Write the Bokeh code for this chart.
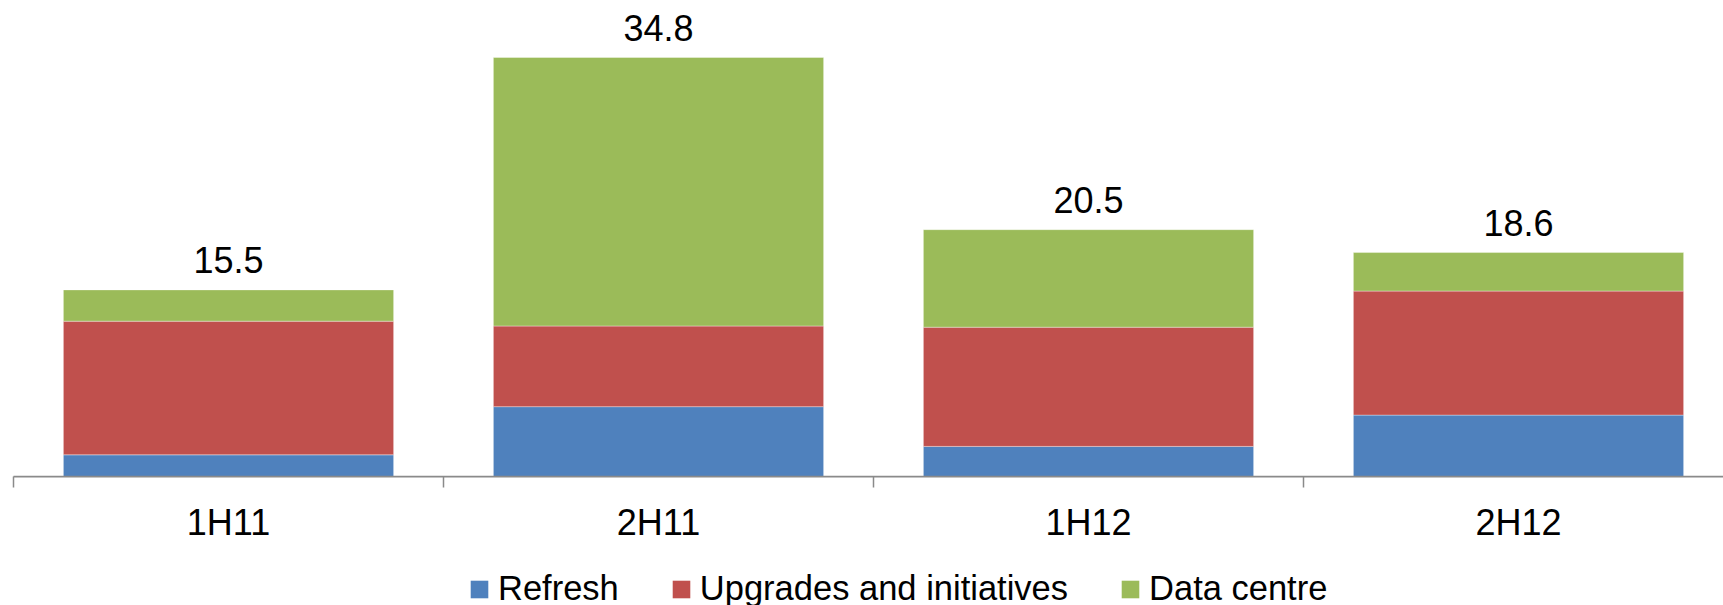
from bokeh.plotting import figure
from bokeh.layouts import column
from bokeh.models import (ColumnDataSource, Range1d, FixedTicker, Legend, LegendItem)
from bokeh.core.properties import value
from bokeh.embed import file_html
from bokeh.resources import INLINE

# ---- data ----
periods = ["1H11", "2H11", "1H12", "2H12"]
refresh = [1.8, 5.8, 2.5, 5.1]
upgrades = [11.1, 6.7, 9.9, 10.3]
data_centre = [2.6, 22.3, 8.1, 3.2]
series_names = ["Refresh", "Upgrades and initiatives", "Data centre"]
colors = ["#4F81BD", "#C0504D", "#9BBB59"]

FONT = "Liberation Sans"
FS = "36px"
FS_LEG = "34.5px"

x = [i + 0.5 for i in range(len(periods))]
totals = [round(a + b + c, 1) for a, b, c in zip(refresh, upgrades, data_centre)]
source = ColumnDataSource(dict(
    x=x, refresh=refresh, upgrades=upgrades, datacentre=data_centre,
    total=totals, total_label=[f"{t:.1f}" for t in totals],
))
stackers = ["refresh", "upgrades", "datacentre"]

W = 1723
H_TOP = 555
H_LEG = 50
LEFT = 13
FRAME_BOTTOM = 476
frame_w = W - LEFT
cat_px = 430.0
px_per_unit = 12.04

p = figure(width=W, height=H_TOP, output_backend="svg", toolbar_location=None,
           x_range=Range1d(0, frame_w / cat_px), y_range=Range1d(0, FRAME_BOTTOM / px_per_unit),
           y_axis_location=None, min_border_left=LEFT, min_border_right=0,
           min_border_top=0, min_border_bottom=H_TOP - FRAME_BOTTOM)
p.outline_line_color = None
p.grid.visible = False
p.background_fill_color = "white"
p.border_fill_color = "white"

p.vbar_stack(stackers, x="x", width=0.768, color=colors,
             line_color="white", line_alpha=0.35, line_width=1, source=source)

p.text(x="x", y="total", text="total_label", source=source, text_align="center",
       text_baseline="alphabetic", y_offset=-30, text_font=value(FONT),
       text_font_size=FS, text_color="black")

ax = p.xaxis[0]
ax.ticker = FixedTicker(ticks=x, minor_ticks=list(range(len(periods) + 1)))
ax.major_label_overrides = {xi: lab for xi, lab in zip(x, periods)}
ax.major_tick_line_color = None
ax.major_tick_out = 0
ax.major_tick_in = 0
ax.minor_tick_line_color = "#8a8a8a"
ax.minor_tick_line_width = 1.5
ax.minor_tick_out = 11
ax.minor_tick_in = 0
ax.axis_line_color = "#8a8a8a"
ax.axis_line_width = 1.75
ax.major_label_text_font = FONT
ax.major_label_text_font_size = FS
ax.major_label_text_color = "black"
ax.major_label_standoff = 14

# ---- legend strip (hidden copies of the series give the legend its swatches) ----
p2 = figure(width=W, height=H_LEG, output_backend="svg", toolbar_location=None,
            x_range=Range1d(0, 1), y_range=Range1d(0, 1),
            x_axis_location=None, y_axis_location=None, min_border=0)
p2.outline_line_color = None
p2.grid.visible = False
leg_renderers = p2.vbar_stack(stackers, x="x", width=0.768, color=colors,
                              line_color=None, source=source, visible=False)
legend = Legend(items=[LegendItem(label=n, renderers=[r]) for n, r in zip(series_names, leg_renderers)],
                orientation="horizontal", location=(455, -3),
                glyph_width=22, glyph_height=22, label_standoff=8, spacing=51,
                padding=0, margin=0, border_line_color=None, background_fill_alpha=0,
                label_text_font=FONT, label_text_font_size=FS_LEG, label_text_color="black")
p2.add_layout(legend)

open("out.html", "w").write(file_html(column(p, p2, spacing=0), INLINE))
